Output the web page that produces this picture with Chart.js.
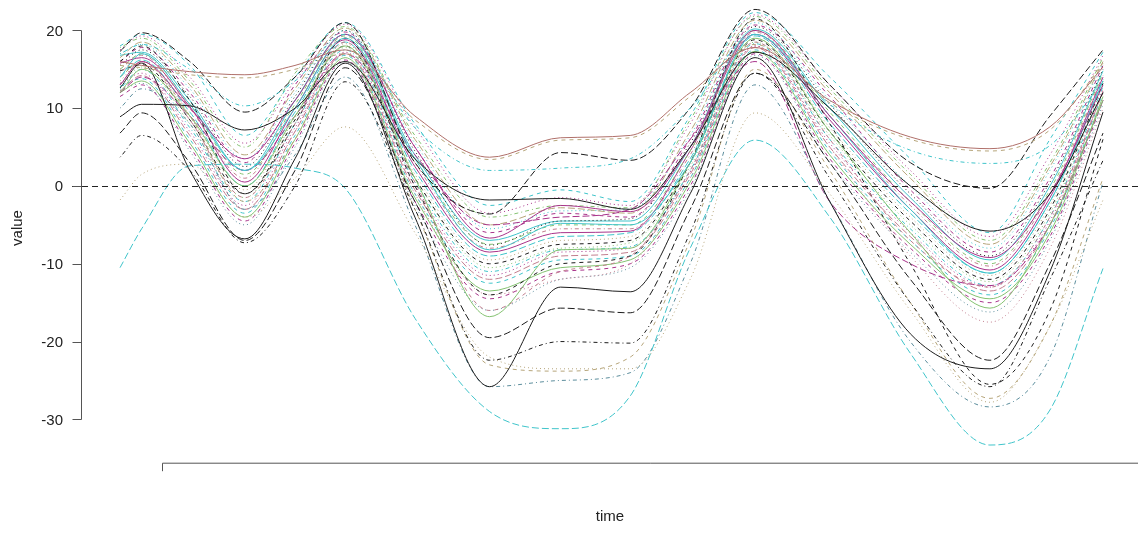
<!DOCTYPE html>
<html>
<head>
<meta charset="utf-8">
<script src="https://cdn.jsdelivr.net/npm/chart.js@4.4.1/dist/chart.umd.min.js"></script>
<style>
  html, body { margin: 0; padding: 0; background: #fff; }
  #chart { display: block; }
</style>
</head>
<body>
<canvas id="chart" width="1138" height="542"></canvas>
<script>
// =====================================================
// DATA
// =====================================================
// time grid shared by every curve
const timePoints = [0, 2.2, 7.1, 12.7, 17.8, 22.9, 30.0, 37.6, 44.8, 51.9, 58.0, 64.6, 72.2, 80.4, 88.5, 94.6, 100];

const yTicks = [-30, -20, -10, 0, 10, 20];
const xTicks = [4.3];
const refLevel = 0;

// curves (value at each time point)
const c01 = [16, 15.5, 14.7, 14.3, 15.5, 17.5, 9, 3.7, 6.2, 6.5, 12, 17.8, 11, 6.3, 4.8, 7.6, 15.3];
const c02 = [15.5, 15.2, 14.3, 13.9, 15, 17, 8.5, 3.4, 5.9, 6.2, 11.5, 18.2, 10.7, 6, 4.5, 7.2, 15.8];
const c03 = [17, 18.2, 15, 10.3, 13.5, 19.5, 7.5, 2, 2.3, 3.5, 10, 19.5, 10.5, 4.6, 2.9, 5.2, 13.5];
const c04 = [17.3, 19.7, 16, 9.5, 14, 21, 3, -3.6, 4.3, 3.3, 10, 22.7, 13, 3, -0.3, 9, 17.5];
const c05 = [8.9, 10.5, 10.3, 7.2, 10, 16, 3.5, -1.8, -1.6, -3, 5, 17.2, 10, 0, -5.8, -1, 12];
const c06 = [13, 16, 10, 3.5, 11, 19.5, 5, -6.7, -2.5, -3.3, 5, 20, 9, -2, -9.2, -1, 13];
const c07 = [14, 17, 10.5, 2, 10, 19, 3.5, -8.2, -4.8, -5, 3, 19.5, 9, -3, -11.2, -2, 13.5];
const c08 = [12, 15, 9, 0, 9, 18, 1, -16.8, -8.2, -8, 3, 19, 7, -6, -15.7, -5, 11];
const c09 = [13, 16, 8.5, -1.5, 8, 18.5, 0.5, -16, -11, -9, 2, 18.5, 6, -7, -13, -4, 12];
const c10 = [12.6, 15.8, 2, -6.8, 3.5, 15.8, -4, -25.8, -13, -13.6, -1, 16.5, -2, -19, -23.5, -11, 9.5];
const c11 = [6.8, 9.4, 3, -7, 2, 15.2, -2, -19.5, -15.7, -16.3, -3, 14.5, 3, -12, -22.4, -10, 6.8];
const c12 = [3.7, 6.5, 2, -7.3, 0, 13.4, -3, -22.4, -20, -20.2, -6, 14.5, 1, -15, -25.8, -12, 3.3];
const c13 = [-1.8, 1.5, 2.8, -4, 1, 7.6, -6, -22, -23.5, -23.5, -12, 9.4, -1, -16, -27.8, -18, -1.8];
const c14 = [-10.5, -5.5, 2.6, 2.8, 2.3, -0.3, -17, -29, -31.2, -27, -8, 5.9, -4, -21.5, -33.3, -28.8, -10.6];
const c15 = [10, 12.5, 8, -3, 4, 14, -5, -25.8, -25, -24, -10, 13, -2, -20, -28.4, -22, 0.5];
const c16 = [14, 16, 9, -2, 6, 17, -3, -23, -23.8, -22, -7, 15, 2, -15, -27.3, -18, 1];
const c17 = [16, 18, 11, -1, 8, 19, 0, -14, -10, -9, 3, 21.5, 8, -10, -25.5, -16, 6];
const c18 = [15, 17, 9, -3, 7, 18, -1, -14, -12, -10, 1, 18, 5, -9, -17.5, -8, 10];
const c19 = [12, 14, 9, 2, 9, 17, 4, -5, -4, -3, 6, 16, -2, -10, -12.8, -5, 11];
const c20 = [18, 19.5, 15.5, 6.5, 14, 21, 8, -2.5, -0.5, -2, 9, 22.3, 14, 3.5, -6, 6, 17.2];
const c21 = [17.5, 19.3, 14, 5.5, 13.5, 20.8, 7.5, -3.5, -1.5, -2.5, 8, 22, 13, 2, -6.5, 4, 16.8];
const c22 = [17.8, 19, 13.5, 5, 14.5, 20.5, 6.5, -4, -2.5, -2.8, 8.5, 21.8, 12.5, 1.5, -7, 3, 16.5];
const c23 = [16.5, 18.5, 13, 4, 12.5, 20.3, 6, -5, -2.8, -3.5, 7, 21.3, 12, 1, -7.5, 2.5, 16];
const c24 = [17, 18.2, 12.5, 3.5, 12, 20, 5.5, -5.5, -3.2, -3, 6.5, 21, 11, 0, -8, 2, 15.8];
const c25 = [16, 17.8, 12, 3, 13, 19.8, 5, -6, -3.5, -4, 6, 20.7, 11.5, -0.5, -8.5, 1, 15.5];
const c26 = [15.5, 17.5, 11.5, 2.5, 11.5, 20, 4.5, -7.6, -4.5, -4.2, 5.5, 20.5, 10.5, -1, -9, 0.5, 15];
const c27 = [16.8, 17.2, 11, 2, 11, 19.5, 4, -7, -4.5, -4.5, 5, 20.2, 10, -1.5, -9.5, 0, 14.8];
const c28 = [15, 17, 10.5, 1.5, 10.5, 19.3, 3.5, -7.5, -5, -5, 4.5, 20, 9.5, -2, -10, -0.5, 14.5];
const c29 = [14.5, 16.8, 10, 1, 11, 19, 3, -8, -5.5, -5.5, 4, 19.8, 9, -2.5, -10.3, -1, 14.2];
const c30 = [15.8, 16.5, 10.2, 0.5, 10, 18.8, 2.5, -8.5, -6, -5.8, 4.5, 19.5, 8.5, -3, -10.8, -1.5, 14];
const c31 = [14, 16.2, 9.5, 0, 9.5, 18.5, 2, -9, -6.5, -6, 3.5, 19.3, 8, -3.5, -11.2, -2, 13.7];
const c32 = [13.5, 16, 9, -0.5, 9, 18.3, 1.5, -9.5, -7, -6.5, 3, 19, 7.5, -4, -11.5, -2.5, 13.5];
const c33 = [14.8, 15.6, 8.5, -1, 8.5, 18, 1, -10, -7.5, -7, 3, 18.8, 7, -4.5, -12, -3, 13.2];
const c34 = [13, 15.3, 8, -1.5, 8.8, 17.8, 1, -10.5, -8, -7.3, 2.5, 18.5, 6.5, -5, -12.3, -3.5, 13];
const c35 = [12.5, 15, 7.5, -2, 8, 17.5, 0.5, -11, -8.2, -7.8, 2, 18.3, 6, -5.5, -12.8, -4, 12.8];
const c36 = [13.2, 14.5, 7, -2.5, 7.5, 17.2, 0, -11.5, -8.5, -8, 1.8, 18, 5.5, -6, -13, -4.5, 12.5];
const c37 = [12.2, 14.2, 6.5, -3, 7, 17, -0.5, -12, -9, -8.5, 1.5, 17.8, 5, -6.5, -13.5, -5, 12.2];
const c38 = [12.8, 13.8, 6, -3.5, 6.5, 16.8, -1, -12.5, -9.5, -9, 1, 17.5, 4.5, -7, -14, -5.5, 12];
const c39 = [12, 13.5, 5.5, -4, 6, 16.5, -1.5, -13.5, -10.5, -9.5, 0.5, 17.3, 4, -7.5, -14.5, -6, 11.5];
const c40 = [11.5, 13, 5, -4.5, 5.5, 16.2, -2, -14.5, -11, -10, 0, 17, 3.5, -8, -15, -6.5, 11];
const c41 = [12.3, 13.2, 4.5, -5, 5, 16, -2.5, -16, -12, -10.5, -0.5, 16.8, 3, -8.5, -16.2, -7, 10.5];

const allCurves = [c01, c02, c03, c04, c05, c06, c07, c08, c09, c10, c11, c12, c13, c14, c15, c16, c17, c18, c19, c20,
    c21, c22, c23, c24, c25, c26, c27, c28, c29, c30, c31, c32, c33, c34, c35, c36, c37, c38, c39, c40, c41];

// =====================================================
// STYLES
// =====================================================
const BLACK = "#1c1c1c", MAG = "#a8338a", CYAN = "#3fc4ca", GREEN = "#84c271",
      TAN = "#b6a57a", PINK = "#c27f8f", SLATE = "#5b8d9c", BROWN = "#b0706a";

const SOLID = [], DASHED = [4, 4], DOTTED = [1, 3], DOTDASH = [1, 3, 4, 3], LONGDASH = [7, 3];

const curveColours = [BROWN, TAN, CYAN, BLACK, BLACK, MAG, CYAN, GREEN, PINK, BLACK, BLACK, BLACK, TAN, CYAN, SLATE,
    TAN, BLACK, PINK, MAG, CYAN, MAG, GREEN, TAN, CYAN, MAG, BLACK, CYAN, GREEN, PINK, MAG, CYAN, TAN, BLACK,
    GREEN, CYAN, MAG, PINK, CYAN, GREEN, MAG, SLATE];

const curveDashes = [SOLID, DASHED, DOTDASH, LONGDASH, SOLID, SOLID, SOLID, SOLID, DASHED, SOLID, LONGDASH, DOTDASH,
    DOTTED, LONGDASH, DOTDASH, DASHED, DASHED, DOTTED, LONGDASH, DASHED, DOTTED, DOTDASH, LONGDASH, DOTTED,
    DASHED, DOTTED, SOLID, DASHED, DOTDASH, SOLID, LONGDASH, DOTTED, DASHED, DOTTED, DOTDASH, DOTTED, LONGDASH,
    DASHED, SOLID, DASHED, DOTTED];

const FONT = '15px "Liberation Sans", Arial, sans-serif';

// =====================================================
// R-STYLE AXES, LABELS AND REFERENCE LINE
// =====================================================
const rAxes = {
    id: "rAxes",
    afterDatasetsDraw(chart) {
        const ctx = chart.ctx;
        const y = Math.round(chart.scales.y.getPixelForValue(refLevel)) + 0.5;
        ctx.save();
        ctx.strokeStyle = "#222";
        ctx.lineWidth = 1;
        ctx.setLineDash([6, 4]);
        ctx.beginPath();
        ctx.moveTo(72, y);
        ctx.lineTo(chart.width, y);
        ctx.stroke();
        ctx.restore();
    },
    afterDraw(chart) {
        const ctx = chart.ctx;
        const xs = chart.scales.x, ys = chart.scales.y;
        const axisX = chart.chartArea.left + 0.5;
        ctx.save();
        ctx.strokeStyle = "#555";
        ctx.lineWidth = 1;

        // y axis
        const yTop = Math.round(ys.getPixelForValue(Math.max(...yTicks))) + 0.5;
        const yBot = Math.round(ys.getPixelForValue(Math.min(...yTicks))) + 0.5;
        ctx.beginPath();
        ctx.moveTo(axisX, yTop);
        ctx.lineTo(axisX, yBot);
        yTicks.forEach(v => {
            const py = Math.round(ys.getPixelForValue(v)) + 0.5;
            ctx.moveTo(axisX - 9, py);
            ctx.lineTo(axisX, py);
        });
        ctx.stroke();

        ctx.fillStyle = "#222";
        ctx.font = FONT;
        ctx.textAlign = "right";
        ctx.textBaseline = "middle";
        yTicks.forEach(v => {
            ctx.fillText(String(v), 63, ys.getPixelForValue(v) + 1);
        });

        // x axis
        const xAxisY = chart.chartArea.bottom - 0.5;
        const x0 = Math.round(xs.getPixelForValue(xTicks[0])) + 0.5;
        ctx.beginPath();
        ctx.moveTo(x0, xAxisY);
        ctx.lineTo(chart.width, xAxisY);
        xTicks.forEach(t => {
            const px = Math.round(xs.getPixelForValue(t)) + 0.5;
            ctx.moveTo(px, xAxisY);
            ctx.lineTo(px, xAxisY + 8);
        });
        ctx.stroke();

        // axis titles
        ctx.textAlign = "center";
        ctx.textBaseline = "middle";
        ctx.fillText("time", 610, 517);
        ctx.translate(18, 228);
        ctx.rotate(-Math.PI / 2);
        ctx.fillText("value", 0, 0);
        ctx.restore();
    }
};

// =====================================================
// CHART
// =====================================================
const datasets = allCurves.map((vals, i) => ({
    data: vals.map((v, k) => ({ x: timePoints[k], y: v })),
    borderColor: curveColours[i],
    borderDash: curveDashes[i],
    borderWidth: 1,
    pointRadius: 0,
    fill: false,
    cubicInterpolationMode: "monotone"
}));

new Chart(document.getElementById("chart"), {
    type: "line",
    data: { datasets },
    options: {
        responsive: false,
        animation: false,
        devicePixelRatio: 1,
        layout: { padding: { left: 81, right: 0, top: 3.2, bottom: 78.3 } },
        plugins: { legend: { display: false }, tooltip: { enabled: false } },
        scales: {
            x: { type: "linear", display: false, min: -3.97, max: 103.56 },
            y: { type: "linear", display: false, min: -35.7, max: 23.5 }
        }
    },
    plugins: [rAxes]
});
</script>
</body>
</html>
